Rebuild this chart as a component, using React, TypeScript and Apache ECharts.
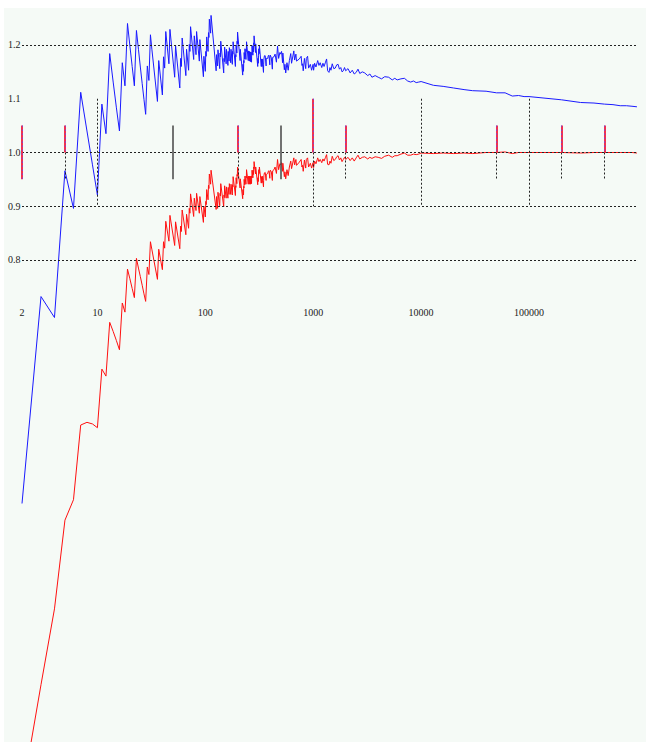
import React, { useEffect, useRef } from "react";
import * as echarts from "echarts";

// x values (n) shared by both series
const ns = [
  2, 3, 4, 5, 6, 7, 8, 9, 10, 11, 12, 13, 14, 15, 16, 17, 18, 19, 20, 21, 22, 23, 24, 25, 26, 27, 28, 29, 30, 31, 32,
  36, 37, 40, 41, 42, 43, 46, 47, 52, 53, 58, 59, 60, 61, 66, 67, 70, 71, 72, 73, 78, 79, 82, 83, 88, 89, 96, 97,
  100, 101, 102, 103, 106, 107, 108, 109, 112, 113, 126, 127, 130, 131, 136, 137, 138, 139, 148, 149, 150, 151,
  156, 157, 162, 163, 166, 167, 172, 173, 178, 179, 180, 181, 190, 191, 192, 193, 196, 197, 198, 199, 210, 211,
  222, 223, 226, 227, 228, 229, 232, 233, 238, 239, 240, 241, 250, 251, 256, 257, 262, 263, 268, 269, 270, 271,
  276, 277, 280, 281, 282, 283, 292, 293, 306, 307, 310, 311, 313, 316, 317, 330, 331, 336, 337, 346, 347, 349,
  353, 359, 366, 367, 373, 379, 383, 389, 396, 397, 401, 409, 418, 421, 433, 443, 449, 456, 467, 478, 491, 499,
  509, 520, 523, 540, 547, 556, 571, 586, 601, 619, 630, 661, 672, 691, 700, 743, 773, 786, 797, 808, 829, 852,
  863, 887, 906, 941, 966, 997,
  1008, 1030, 1060, 1090, 1100, 1130, 1160, 1200, 1230, 1260, 1300, 1330, 1360, 1400, 1430, 1460, 1500, 1550,
  1600, 1650, 1700, 1750, 1800, 1850, 1900, 1950, 2000, 2100, 2200, 2300, 2400, 2500, 2600, 2700, 2850, 3000,
  3200, 3350, 3500, 3750, 4000, 4300, 4600, 5000, 5400, 5700, 6000, 6500, 7000, 7500, 8000, 8500, 9000, 9500,
  10000, 13000, 16000, 20000, 25000, 30000, 40000, 50000, 60000, 70000, 80000, 90000,
  100000, 200000, 300000, 400000, 500000, 600000, 700000, 800000, 900000, 1000000,
];

const blueVals = [
  0.347, 0.732, 0.693, 0.966, 0.896, 1.112, 1.04, 0.977, 0.921, 1.09, 1.035, 1.184, 1.131, 1.083, 1.04, 1.167, 1.124, 1.24, 1.198, 1.16, 1.124, 1.227, 1.192, 1.159, 1.128, 1.099, 1.071, 1.161, 1.134, 1.219, 1.191,
  1.095, 1.171, 1.107, 1.178, 1.157, 1.225, 1.165, 1.229, 1.14, 1.199, 1.12, 1.175, 1.16, 1.213, 1.143, 1.192, 1.153, 1.201, 1.188, 1.234, 1.173, 1.217, 1.182, 1.225, 1.17, 1.21, 1.141, 1.179,
  1.151, 1.188, 1.179, 1.215, 1.188, 1.223, 1.214, 1.248, 1.222, 1.255, 1.152, 1.182, 1.161, 1.191, 1.156, 1.185, 1.178, 1.207, 1.148, 1.175, 1.169, 1.196,
  1.165, 1.192, 1.162, 1.188, 1.17, 1.195, 1.167, 1.192, 1.164, 1.188, 1.183, 1.206, 1.16, 1.182, 1.178, 1.2, 1.185, 1.207, 1.202, 1.224, 1.171, 1.192,
  1.144, 1.164, 1.151, 1.171, 1.167, 1.186, 1.174, 1.193, 1.173, 1.192, 1.188, 1.206, 1.171, 1.189, 1.17, 1.188, 1.169, 1.187, 1.168, 1.186, 1.182, 1.199,
  1.181, 1.198, 1.187, 1.204, 1.2, 1.217, 1.186, 1.202, 1.16, 1.175, 1.166, 1.181, 1.193, 1.184, 1.199, 1.16, 1.174, 1.16, 1.174, 1.149, 1.163, 1.174,
  1.18, 1.18, 1.161, 1.175, 1.175, 1.175, 1.18, 1.181, 1.163, 1.176, 1.181, 1.176, 1.155, 1.177, 1.178, 1.183, 1.183, 1.168, 1.198, 1.175, 1.186, 1.183,
  1.188, 1.167, 1.185, 1.154, 1.164, 1.148, 1.167, 1.153, 1.171, 1.184, 1.166, 1.189, 1.172, 1.183, 1.17, 1.174, 1.179, 1.162, 1.165, 1.152, 1.175, 1.156,
  1.175, 1.179, 1.157, 1.164, 1.153, 1.164,
  1.153, 1.166, 1.159, 1.168, 1.171, 1.162, 1.167, 1.158, 1.166, 1.16, 1.168, 1.174, 1.152, 1.149, 1.158, 1.153, 1.165, 1.156,
  1.157, 1.163, 1.164, 1.155, 1.158, 1.15, 1.152, 1.158, 1.152, 1.156, 1.148, 1.153, 1.146, 1.149, 1.155, 1.147, 1.15, 1.148,
  1.143, 1.146, 1.14, 1.143, 1.14, 1.137, 1.141, 1.14, 1.135, 1.138, 1.135, 1.137, 1.138, 1.133, 1.131, 1.133, 1.13, 1.131,
  1.132, 1.125, 1.123, 1.12, 1.117, 1.115, 1.114, 1.111, 1.111, 1.105, 1.106, 1.104,
  1.104, 1.098, 1.093, 1.092, 1.09, 1.089, 1.087, 1.087, 1.086, 1.085,
];

const redVals = [
  -0.195, 0.01, 0.151, 0.316, 0.354, 0.493, 0.498, 0.495, 0.488, 0.597, 0.584, 0.684, 0.667, 0.65, 0.633, 0.72, 0.703, 0.783, 0.765, 0.747, 0.73, 0.803, 0.785, 0.769, 0.753, 0.737, 0.723, 0.787, 0.773, 0.834, 0.819,
  0.764, 0.82, 0.782, 0.834, 0.822, 0.872, 0.835, 0.883, 0.827, 0.871, 0.821, 0.863, 0.853, 0.893, 0.847, 0.885, 0.859, 0.896, 0.887, 0.923, 0.881, 0.915, 0.892, 0.924, 0.887, 0.918, 0.87, 0.9,
  0.88, 0.909, 0.903, 0.931, 0.912, 0.939, 0.933, 0.96, 0.941, 0.967, 0.894, 0.918, 0.896, 0.926, 0.901, 0.924, 0.919, 0.942, 0.899, 0.921, 0.916, 0.938,
  0.915, 0.936, 0.915, 0.935, 0.922, 0.942, 0.922, 0.941, 0.921, 0.94, 0.936, 0.955, 0.92, 0.938, 0.935, 0.953, 0.942, 0.959, 0.956, 0.973, 0.934, 0.951,
  0.914, 0.931, 0.921, 0.937, 0.934, 0.95, 0.94, 0.956, 0.941, 0.956, 0.953, 0.968, 0.941, 0.956, 0.941, 0.956, 0.941, 0.956, 0.942, 0.956, 0.953, 0.967,
  0.953, 0.967, 0.959, 0.973, 0.97, 0.983, 0.96, 0.973, 0.94, 0.953, 0.946, 0.958, 0.968, 0.961, 0.973, 0.943, 0.955, 0.944, 0.956, 0.936, 0.948, 0.957,
  0.962, 0.963, 0.948, 0.959, 0.96, 0.961, 0.965, 0.966, 0.952, 0.963, 0.967, 0.964, 0.948, 0.966, 0.968, 0.973, 0.973, 0.961, 0.987, 0.968, 0.979, 0.977,
  0.981, 0.965, 0.98, 0.955, 0.964, 0.951, 0.968, 0.957, 0.973, 0.984, 0.97, 0.99, 0.977, 0.987, 0.976, 0.982, 0.987, 0.973, 0.976, 0.965, 0.986, 0.971,
  0.987, 0.99, 0.973, 0.98, 0.971, 0.981,
  0.972, 0.984, 0.979, 0.987, 0.99, 0.983, 0.987, 0.981, 0.988, 0.984, 0.991, 0.996, 0.978, 0.977, 0.984, 0.98, 0.993, 0.985,
  0.987, 0.992, 0.994, 0.986, 0.99, 0.983, 0.987, 0.991, 0.987, 0.991, 0.985, 0.99, 0.984, 0.99, 0.995, 0.988, 0.991, 0.992,
  0.988, 0.991, 0.989, 0.992, 0.991, 0.989, 0.993, 0.995, 0.991, 0.994, 0.994, 0.997, 0.999, 0.995, 0.995, 0.997, 0.996, 0.997,
  0.999, 0.998, 0.999, 0.998, 0.999, 0.998, 1.0, 1.0, 1.001, 0.998, 1.0, 1.0,
  1.0, 1.0, 0.999, 1.0, 1.0, 1.0, 1.0, 1.0, 1.0, 0.999,
];

// axis / reference values
const yLabelValues = [0.8, 0.9, 1.0, 1.1, 1.2];
const yGridValues = [0.8, 0.9, 1.0, 1.2];
const xLabelValues = [2, 10, 100, 1000, 10000, 100000];
const gridFrom = 2;
const gridTo = 1000000;

// vertical reference marks [x, top, bottom]
const colouredMarks: [number, number, number][] = [
  [2, 1.05, 0.95], [5, 1.05, 1.0], [200, 1.05, 1.0], [1000, 1.1, 1.0], [2000, 1.05, 1.0],
  [50000, 1.05, 1.0], [200000, 1.05, 1.0], [500000, 1.05, 1.0],
];
const dottedMarks: [number, number, number][] = [
  [5, 1.0, 0.95], [10, 1.1, 0.9], [200, 1.0, 0.95], [1000, 1.0, 0.9], [2000, 1.0, 0.95],
  [10000, 1.1, 0.9], [50000, 1.0, 0.95], [100000, 1.1, 0.9], [200000, 1.0, 0.95], [500000, 1.0, 0.95],
];
const solidMarks: [number, number, number][] = [[50, 1.05, 0.95], [500, 1.05, 0.95]];

// visible extent of the plotting area
const X_MIN = 1.3621;
const X_MAX = 1213700;
const Y_MIN = -0.0967;
const Y_MAX = 1.2688;

const FONT = "'Liberation Serif', 'DejaVu Serif', serif";

export default function App() {
  const ref = useRef<HTMLDivElement>(null);
  useEffect(() => {
    const chart = echarts.init(ref.current!, null, { renderer: "svg" });
    const blueData = ns.map((n, i) => [n, blueVals[i]]);
    const redData = ns.map((n, i) => [n, redVals[i]]);

    const dotStyle = { color: "#222", width: 1, type: [2, 2] as number[] };
    const marks: any[] = [];
    yGridValues.forEach((v) => {
      marks.push([{ coord: [gridFrom, v], lineStyle: dotStyle }, { coord: [gridTo, v] }]);
    });
    dottedMarks.forEach(([x, a, b]) => {
      marks.push([{ coord: [x, a], lineStyle: dotStyle }, { coord: [x, b] }]);
    });
    solidMarks.forEach(([x, a, b]) => {
      marks.push([{ coord: [x, a], lineStyle: { color: "#444", width: 1.5, type: "solid" } }, { coord: [x, b] }]);
    });
    colouredMarks.forEach(([x, a, b]) => {
      marks.push([{ coord: [x, a], lineStyle: { color: "#f03050", width: 2, type: "solid" } }, { coord: [x, b] }]);
      marks.push([{ coord: [x, a], lineStyle: { color: "#5050ff", width: 1, type: [1, 3] } }, { coord: [x, b] }]);
    });

    chart.setOption({
      animation: false,
      backgroundColor: "#ffffff",
      grid: {
        left: 4,
        top: 8,
        right: 0,
        bottom: 0,
        show: true,
        backgroundColor: "#f5faf6",
        borderWidth: 0,
      },
      xAxis: {
        type: "log",
        logBase: 10,
        min: X_MIN,
        max: X_MAX,
        offset: -437,
        splitLine: { show: false },
        axisLine: { show: false },
        axisTick: { show: false },
        axisLabel: {
          customValues: xLabelValues,
          margin: 2,
          fontSize: 10,
          fontFamily: FONT,
          color: "#222",
          formatter: (v: number) => String(Math.round(v)),
        },
      },
      yAxis: {
        type: "value",
        min: Y_MIN,
        max: Y_MAX,
        splitLine: { show: false },
        axisLine: { show: false },
        axisTick: { show: false },
        axisLabel: {
          inside: true,
          margin: 4,
          customValues: yLabelValues,
          fontSize: 10,
          fontFamily: FONT,
          color: "#222",
          formatter: (v: number) => v.toFixed(1),
        },
      },
      series: [
        {
          type: "line",
          data: [[gridTo, 1.0]],
          symbol: "none",
          lineStyle: { opacity: 0 },
          silent: true,
          z: 1,
          markLine: {
            silent: true,
            symbol: ["none", "none"],
            label: { show: false },
            emphasis: { disabled: true },
            data: marks,
          },
        },
        {
          type: "line",
          data: blueData,
          symbol: "none",
          showSymbol: false,
          silent: true,
          lineStyle: { color: "#1a1aff", width: 1 },
          z: 3,
        },
        {
          type: "line",
          data: redData,
          symbol: "none",
          showSymbol: false,
          silent: true,
          lineStyle: { color: "#ff1010", width: 1 },
          z: 3,
        },
      ],
    });
    return () => chart.dispose();
  }, []);
  return (
    <div
      ref={ref}
      style={{ position: "absolute", left: 0, top: 0, width: 646, height: 742, background: "#fff" }}
    />
  );
}
